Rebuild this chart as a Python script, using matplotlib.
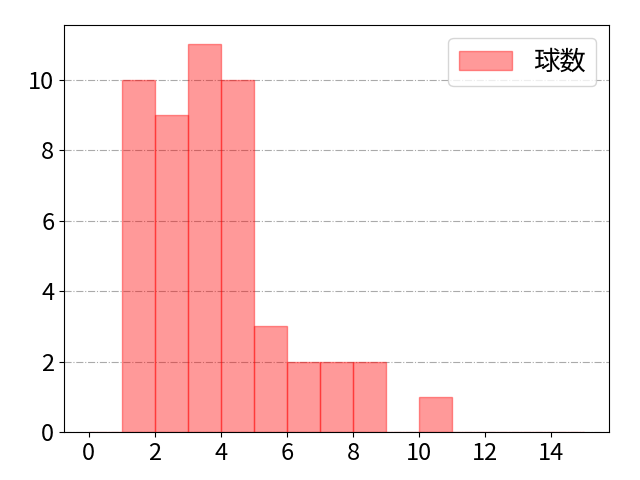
import numpy as np
import matplotlib.pyplot as plt

plt.rcParams['font.family'] = ['Noto Sans CJK JP', 'DejaVu Sans']
plt.rcParams['font.size'] = 17

# pitch-count bins (left edge) and frequencies
bin_left = [1, 2, 3, 4, 5, 6, 7, 8, 9, 10]
counts = [10, 9, 11, 10, 3, 2, 2, 2, 0, 1]
bin_edges = list(range(0, 16))

fig, ax = plt.subplots(figsize=(6.4, 4.8), dpi=100)
ax.hist(bin_left, bins=bin_edges, weights=counts, color='red', alpha=0.4,
        edgecolor='red', linewidth=1, label='球数')
ax.set_xlim(-0.75, 15.75)
ax.set_xticks(range(0, 16, 2))
ax.grid(axis='y', linestyle='-.', color='#aaaaaa', linewidth=0.8)
ax.set_axisbelow(True)
ax.legend(loc='upper right', fontsize=19)
fig.subplots_adjust(left=0.1, right=0.952, top=0.948, bottom=0.1)
fig.savefig('out.png')
